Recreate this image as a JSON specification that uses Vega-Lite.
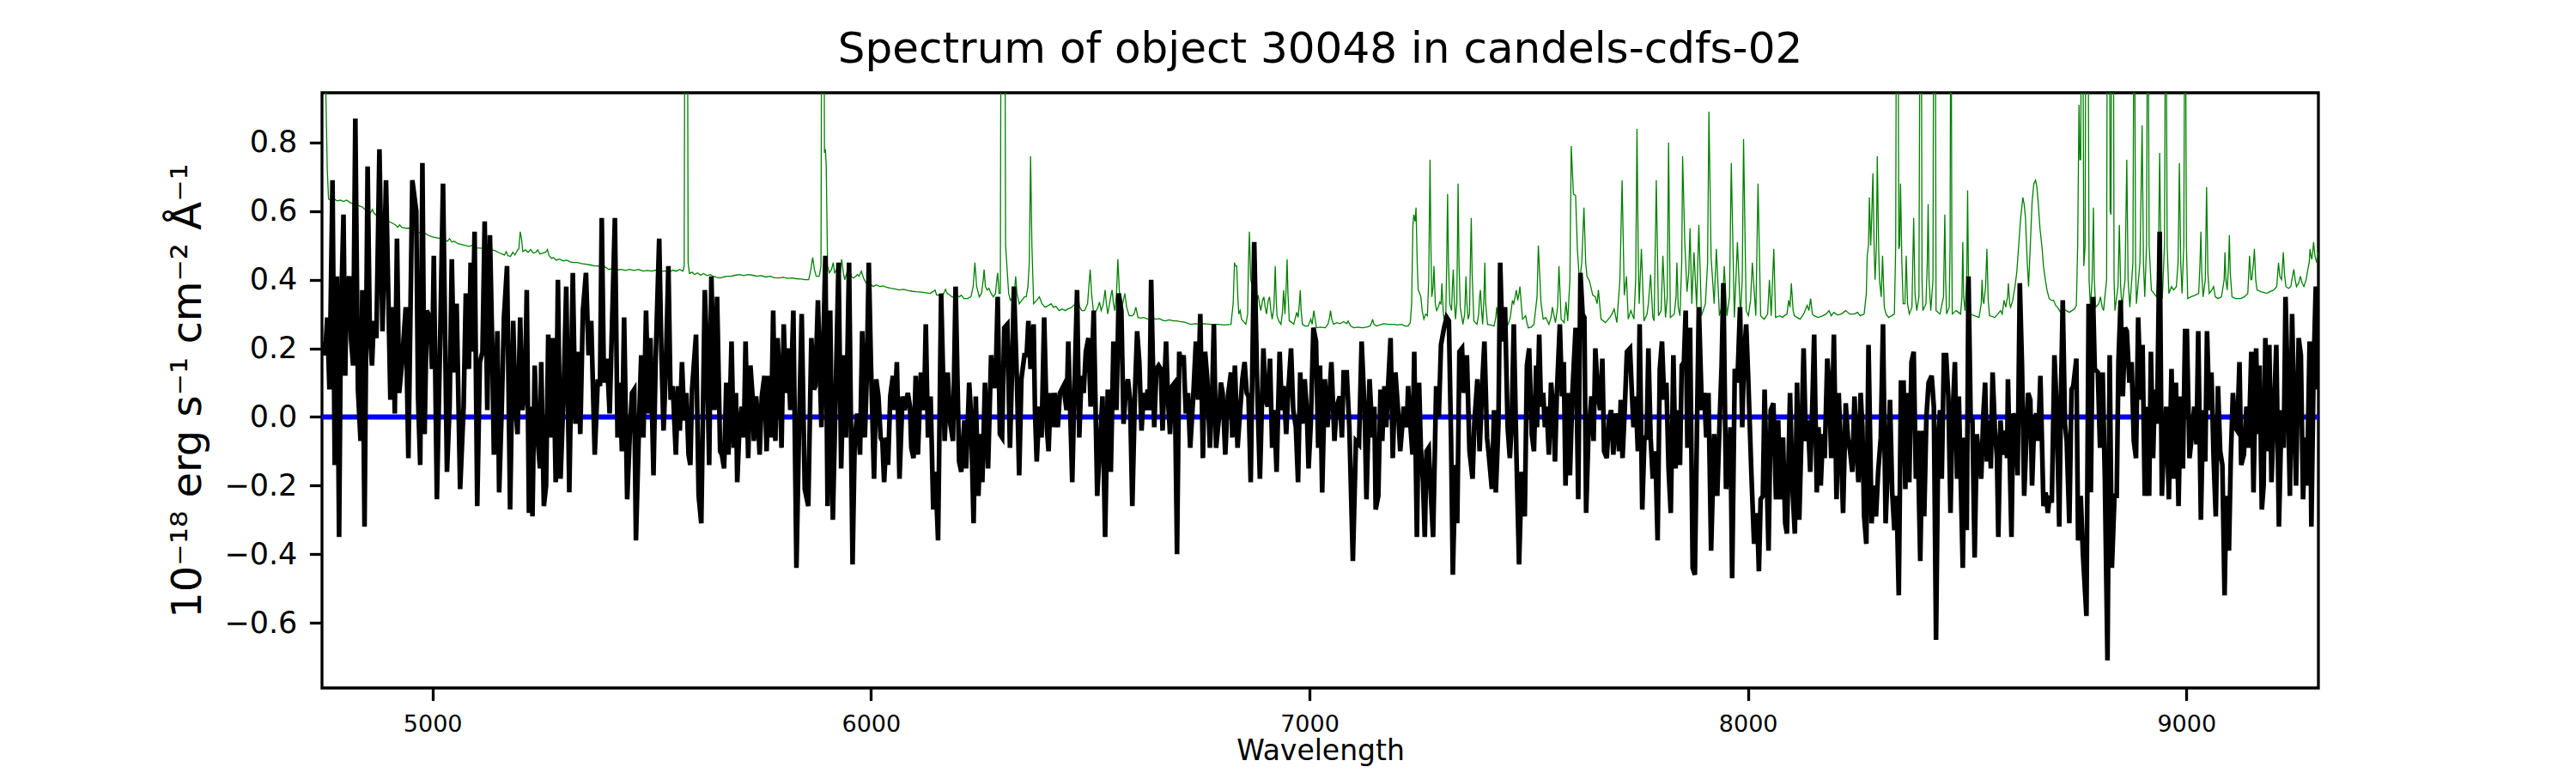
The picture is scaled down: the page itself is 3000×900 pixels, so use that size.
{
  "$schema": "https://vega.github.io/schema/vega-lite/v6.json",
  "autosize": "none",
  "width": 2325,
  "height": 693,
  "padding": {"left": 375, "top": 108, "right": 300, "bottom": 99},
  "background": "white",
  "title": {
    "text": "Spectrum of object 30048 in candels-cdfs-02",
    "font": "DejaVu Sans",
    "fontSize": 50,
    "fontWeight": "normal",
    "color": "black",
    "offset": 25
  },
  "config": {
    "view": {"stroke": "black", "strokeWidth": 3.3},
    "axis": {
      "labelFont": "DejaVu Sans",
      "titleFont": "DejaVu Sans",
      "labelColor": "black",
      "titleColor": "black",
      "titleFontWeight": "normal",
      "tickColor": "black",
      "tickWidth": 3.3,
      "tickSize": 14.6,
      "labelPadding": 14.6,
      "domain": false,
      "grid": false
    }
  },
  "datasets": {
    "zero": [{"wave": 4748, "flux": 0}, {"wave": 9301, "flux": 0}],
    "spec": [
      {"wave":4751,"flux":0.22},{"wave":4755,"flux":0.18},{"wave":4760,"flux":0.29},{"wave":4765,"flux":0.08},{"wave":4772,"flux":0.69},{"wave":4777,"flux":-0.14},{"wave":4782,"flux":0.41},{"wave":4787,"flux":-0.35},{"wave":4791,"flux":0.28},{"wave":4797,"flux":0.59},{"wave":4801,"flux":0.12},{"wave":4804,"flux":0.37},{"wave":4810,"flux":0.41},{"wave":4814,"flux":0.23},{"wave":4819,"flux":0.15},{"wave":4824,"flux":0.87},{"wave":4830,"flux":0.08},{"wave":4836,"flux":-0.07},{"wave":4840,"flux":0.37},{"wave":4845,"flux":-0.32},{"wave":4852,"flux":0.73},{"wave":4857,"flux":0.25},{"wave":4862,"flux":0.15},{"wave":4866,"flux":0.28},{"wave":4872,"flux":0.23},{"wave":4879,"flux":0.78},{"wave":4886,"flux":0.25},{"wave":4894,"flux":0.69},{"wave":4899,"flux":0.37},{"wave":4904,"flux":0.05},{"wave":4910,"flux":0.32},{"wave":4914,"flux":0.01},{"wave":4919,"flux":0.52},{"wave":4924,"flux":0.07},{"wave":4930,"flux":0.15},{"wave":4939,"flux":0.32},{"wave":4945,"flux":-0.12},{"wave":4954,"flux":0.69},{"wave":4963,"flux":0.6},{"wave":4967,"flux":0.06},{"wave":4972,"flux":-0.14},{"wave":4977,"flux":0.74},{"wave":4982,"flux":-0.05},{"wave":4987,"flux":0.31},{"wave":4994,"flux":0.29},{"wave":4999,"flux":0.14},{"wave":5003,"flux":0.47},{"wave":5010,"flux":-0.24},{"wave":5018,"flux":0.26},{"wave":5024,"flux":0.68},{"wave":5033,"flux":-0.16},{"wave":5039,"flux":0.03},{"wave":5044,"flux":0.46},{"wave":5049,"flux":0.13},{"wave":5055,"flux":0.33},{"wave":5063,"flux":-0.21},{"wave":5071,"flux":0.03},{"wave":5076,"flux":0.36},{"wave":5083,"flux":0.14},{"wave":5087,"flux":0.45},{"wave":5091,"flux":0.19},{"wave":5096,"flux":0.54},{"wave":5102,"flux":-0.26},{"wave":5108,"flux":0.16},{"wave":5114,"flux":0.19},{"wave":5119,"flux":0.57},{"wave":5125,"flux":0.02},{"wave":5131,"flux":0.53},{"wave":5136,"flux":0.22},{"wave":5140,"flux":-0.11},{"wave":5148,"flux":0.25},{"wave":5152,"flux":-0.22},{"wave":5158,"flux":0.03},{"wave":5163,"flux":0.29},{"wave":5170,"flux":0.44},{"wave":5177,"flux":-0.27},{"wave":5184,"flux":0.28},{"wave":5189,"flux":0.03},{"wave":5194,"flux":-0.05},{"wave":5200,"flux":0.29},{"wave":5205,"flux":0.02},{"wave":5211,"flux":0.08},{"wave":5215,"flux":0.37},{"wave":5220,"flux":-0.28},{"wave":5225,"flux":0.03},{"wave":5228,"flux":-0.29},{"wave":5233,"flux":0.15},{"wave":5238,"flux":-0.03},{"wave":5245,"flux":-0.15},{"wave":5248,"flux":0.16},{"wave":5254,"flux":-0.26},{"wave":5259,"flux":-0.2},{"wave":5264,"flux":0.24},{"wave":5269,"flux":-0.06},{"wave":5275,"flux":0.23},{"wave":5281,"flux":-0.19},{"wave":5286,"flux":0.4},{"wave":5292,"flux":-0.18},{"wave":5299,"flux":0.07},{"wave":5305,"flux":0.38},{"wave":5312,"flux":-0.22},{"wave":5320,"flux":0.42},{"wave":5326,"flux":-0.02},{"wave":5333,"flux":0.19},{"wave":5337,"flux":-0.05},{"wave":5343,"flux":0.31},{"wave":5350,"flux":0.42},{"wave":5356,"flux":0.18},{"wave":5362,"flux":0.28},{"wave":5370,"flux":-0.11},{"wave":5377,"flux":0.11},{"wave":5382,"flux":0.09},{"wave":5386,"flux":0.58},{"wave":5391,"flux":0.1},{"wave":5398,"flux":0.17},{"wave":5404,"flux":0.01},{"wave":5416,"flux":0.58},{"wave":5422,"flux":-0.06},{"wave":5427,"flux":0.1},{"wave":5432,"flux":-0.1},{"wave":5437,"flux":0.29},{"wave":5444,"flux":-0.24},{"wave":5450,"flux":-0.05},{"wave":5455,"flux":0.07},{"wave":5460,"flux":0.08},{"wave":5464,"flux":-0.36},{"wave":5471,"flux":-0.02},{"wave":5476,"flux":0.18},{"wave":5481,"flux":-0.06},{"wave":5487,"flux":0.31},{"wave":5493,"flux":0.01},{"wave":5497,"flux":0.23},{"wave":5504,"flux":-0.17},{"wave":5509,"flux":0.17},{"wave":5517,"flux":0.52},{"wave":5522,"flux":0.19},{"wave":5527,"flux":-0.04},{"wave":5532,"flux":0.14},{"wave":5538,"flux":0.44},{"wave":5543,"flux":0.05},{"wave":5548,"flux":0.09},{"wave":5555,"flux":-0.11},{"wave":5560,"flux":0.09},{"wave":5564,"flux":-0.04},{"wave":5569,"flux":0.16},{"wave":5574,"flux":-0.01},{"wave":5579,"flux":0.07},{"wave":5584,"flux":-0.11},{"wave":5588,"flux":-0.14},{"wave":5592,"flux":0.08},{"wave":5601,"flux":0.24},{"wave":5607,"flux":-0.23},{"wave":5613,"flux":-0.31},{"wave":5621,"flux":0.37},{"wave":5626,"flux":0.19},{"wave":5631,"flux":-0.14},{"wave":5636,"flux":0.41},{"wave":5643,"flux":0.02},{"wave":5649,"flux":0.35},{"wave":5656,"flux":-0.1},{"wave":5660,"flux":-0.11},{"wave":5665,"flux":-0.15},{"wave":5670,"flux":0.1},{"wave":5675,"flux":-0.11},
      {"wave":5679,"flux":0.07},{"wave":5682,"flux":0.22},{"wave":5687,"flux":-0.09},{"wave":5692,"flux":0.07},{"wave":5695,"flux":-0.19},{"wave":5700,"flux":-0.03},{"wave":5705,"flux":0.03},{"wave":5710,"flux":-0.06},{"wave":5714,"flux":0.22},{"wave":5720,"flux":-0.12},{"wave":5725,"flux":0.15},{"wave":5730,"flux":0.06},{"wave":5733,"flux":-0.07},{"wave":5738,"flux":0.06},{"wave":5743,"flux":-0.02},{"wave":5746,"flux":-0.11},{"wave":5751,"flux":0.06},{"wave":5757,"flux":0.12},{"wave":5762,"flux":-0.1},{"wave":5767,"flux":0.12},{"wave":5772,"flux":-0.06},{"wave":5777,"flux":0.31},{"wave":5782,"flux":-0.07},{"wave":5787,"flux":0.23},{"wave":5792,"flux":0.1},{"wave":5796,"flux":-0.09},{"wave":5801,"flux":0.27},{"wave":5806,"flux":0.07},{"wave":5811,"flux":0.2},{"wave":5816,"flux":0.02},{"wave":5823,"flux":0.31},{"wave":5830,"flux":-0.44},{"wave":5836,"flux":-0.03},{"wave":5842,"flux":0.3},{"wave":5849,"flux":-0.21},{"wave":5857,"flux":-0.26},{"wave":5864,"flux":0.23},{"wave":5870,"flux":0.08},{"wave":5873,"flux":0.09},{"wave":5879,"flux":0.34},{"wave":5887,"flux":-0.03},{"wave":5896,"flux":0.47},{"wave":5901,"flux":-0.26},{"wave":5907,"flux":0.31},{"wave":5913,"flux":-0.3},{"wave":5919,"flux":0.04},{"wave":5926,"flux":0.45},{"wave":5932,"flux":-0.15},{"wave":5938,"flux":0.18},{"wave":5943,"flux":-0.06},{"wave":5950,"flux":0.45},{"wave":5958,"flux":-0.43},{"wave":5963,"flux":-0.06},{"wave":5969,"flux":0.01},{"wave":5975,"flux":-0.11},{"wave":5980,"flux":0.25},{"wave":5986,"flux":-0.06},{"wave":5990,"flux":0.1},{"wave":5995,"flux":0.45},{"wave":6000,"flux":0.15},{"wave":6007,"flux":-0.18},{"wave":6012,"flux":0.11},{"wave":6017,"flux":0.06},{"wave":6022,"flux":-0.06},{"wave":6026,"flux":-0.07},{"wave":6030,"flux":-0.19},{"wave":6035,"flux":-0.06},{"wave":6039,"flux":-0.14},{"wave":6044,"flux":0.06},{"wave":6050,"flux":0.12},{"wave":6054,"flux":0.02},{"wave":6059,"flux":0.16},{"wave":6065,"flux":-0.18},{"wave":6072,"flux":0.06},{"wave":6077,"flux":0.02},{"wave":6084,"flux":0.07},{"wave":6089,"flux":0.03},{"wave":6092,"flux":-0.09},{"wave":6097,"flux":-0.12},{"wave":6102,"flux":0.12},{"wave":6107,"flux":-0.11},{"wave":6114,"flux":0.13},{"wave":6121,"flux":0.02},{"wave":6125,"flux":0.27},{"wave":6130,"flux":-0.06},{"wave":6136,"flux":0.06},{"wave":6142,"flux":-0.27},{"wave":6147,"flux":-0.16},{"wave":6153,"flux":-0.36},{"wave":6160,"flux":0.36},{"wave":6168,"flux":-0.07},{"wave":6175,"flux":0.13},{"wave":6181,"flux":-0.02},{"wave":6187,"flux":-0.07},{"wave":6193,"flux":0.38},{"wave":6201,"flux":-0.13},{"wave":6206,"flux":-0.16},{"wave":6213,"flux":-0.01},{"wave":6217,"flux":-0.15},{"wave":6224,"flux":0.1},{"wave":6228,"flux":0.01},{"wave":6234,"flux":-0.31},{"wave":6239,"flux":0.06},{"wave":6245,"flux":-0.23},{"wave":6250,"flux":-0.05},{"wave":6254,"flux":-0.19},{"wave":6260,"flux":0.1},{"wave":6267,"flux":-0.15},{"wave":6274,"flux":0.18},{"wave":6279,"flux":0.09},{"wave":6284,"flux":0.09},{"wave":6289,"flux":0.35},{"wave":6294,"flux":-0.05},{"wave":6299,"flux":-0.06},{"wave":6304,"flux":0.26},{"wave":6311,"flux":0.27},{"wave":6317,"flux":-0.09},{"wave":6322,"flux":0.15},{"wave":6326,"flux":0.38},{"wave":6333,"flux":0.1},{"wave":6338,"flux":-0.17},{"wave":6343,"flux":0.11},{"wave":6350,"flux":0.18},{"wave":6355,"flux":0.18},{"wave":6359,"flux":0.28},{"wave":6364,"flux":0.14},{"wave":6371,"flux":0.27},{"wave":6374,"flux":0.02},{"wave":6378,"flux":-0.13},{"wave":6384,"flux":0.03},{"wave":6389,"flux":-0.06},{"wave":6395,"flux":0.29},{"wave":6401,"flux":-0.03},{"wave":6405,"flux":-0.1},{"wave":6410,"flux":0.07},{"wave":6415,"flux":-0.03},{"wave":6419,"flux":0.07},{"wave":6426,"flux":-0.03},{"wave":6431,"flux":0.07},{"wave":6439,"flux":0.09},{"wave":6446,"flux":0.02},{"wave":6450,"flux":0.22},{"wave":6459,"flux":-0.19},{"wave":6463,"flux":0.03},{"wave":6470,"flux":0.37},{"wave":6475,"flux":-0.06},{"wave":6480,"flux":0.12},{"wave":6485,"flux":0.07},{"wave":6490,"flux":0.19},{"wave":6496,"flux":0.23},{"wave":6501,"flux":0.03},{"wave":6508,"flux":0.31},{"wave":6516,"flux":-0.23},{"wave":6523,"flux":-0.06},{"wave":6528,"flux":0.06},{"wave":6534,"flux":-0.35},{"wave":6540,"flux":0.08},{"wave":6547,"flux":-0.16},{"wave":6553,"flux":0.22},{"wave":6560,"flux":0.02},{"wave":6565,"flux":0.36},{"wave":6571,"flux":0.31},{"wave":6576,"flux":-0.02},{"wave":6581,"flux":0.07},{"wave":6586,"flux":0.11},{"wave":6591,"flux":0.05},{"wave":6596,"flux":-0.26},
      {"wave":6602,"flux":0.07},{"wave":6607,"flux":0.25},{"wave":6612,"flux":0.16},{"wave":6617,"flux":-0.04},{"wave":6622,"flux":0.07},{"wave":6627,"flux":0.02},{"wave":6631,"flux":0.08},{"wave":6635,"flux":0.02},{"wave":6639,"flux":0.4},{"wave":6646,"flux":-0.03},{"wave":6651,"flux":0.14},{"wave":6656,"flux":0.15},{"wave":6661,"flux":0.14},{"wave":6665,"flux":-0.04},{"wave":6673,"flux":0.22},{"wave":6677,"flux":0.06},{"wave":6682,"flux":-0.05},{"wave":6687,"flux":0.09},{"wave":6693,"flux":0.1},{"wave":6698,"flux":-0.4},{"wave":6703,"flux":0.19},{"wave":6708,"flux":0.15},{"wave":6713,"flux":0.18},{"wave":6718,"flux":0.01},{"wave":6723,"flux":0.07},{"wave":6728,"flux":-0.09},{"wave":6735,"flux":0.06},{"wave":6741,"flux":0.22},{"wave":6746,"flux":0.05},{"wave":6751,"flux":0.3},{"wave":6757,"flux":-0.12},{"wave":6762,"flux":0.19},{"wave":6767,"flux":0.11},{"wave":6773,"flux":-0.09},{"wave":6778,"flux":0.06},{"wave":6782,"flux":0.27},{"wave":6787,"flux":-0.09},{"wave":6793,"flux":-0.01},{"wave":6798,"flux":0.1},{"wave":6802,"flux":0.07},{"wave":6808,"flux":-0.11},{"wave":6814,"flux":0.06},{"wave":6821,"flux":0.13},{"wave":6824,"flux":-0.06},{"wave":6830,"flux":0.15},{"wave":6836,"flux":-0.09},{"wave":6842,"flux":0.02},{"wave":6847,"flux":0.11},{"wave":6852,"flux":0.16},{"wave":6857,"flux":0.07},{"wave":6861,"flux":0.06},{"wave":6866,"flux":-0.19},{"wave":6874,"flux":0.51},{"wave":6881,"flux":0.08},{"wave":6887,"flux":-0.18},{"wave":6895,"flux":0.2},{"wave":6900,"flux":0.05},{"wave":6905,"flux":0.03},{"wave":6910,"flux":0.17},{"wave":6915,"flux":-0.09},{"wave":6920,"flux":0.02},{"wave":6925,"flux":-0.16},{"wave":6932,"flux":0.19},{"wave":6937,"flux":0.02},{"wave":6941,"flux":0.09},{"wave":6947,"flux":-0.05},{"wave":6951,"flux":0.06},{"wave":6958,"flux":0.2},{"wave":6963,"flux":0.02},{"wave":6969,"flux":-0.03},{"wave":6974,"flux":-0.19},{"wave":6979,"flux":0.13},{"wave":6984,"flux":-0.02},{"wave":6989,"flux":0.11},{"wave":6994,"flux":0.02},{"wave":6998,"flux":-0.15},{"wave":7003,"flux":-0.02},{"wave":7009,"flux":0.26},{"wave":7015,"flux":0.22},{"wave":7020,"flux":-0.09},{"wave":7024,"flux":0.15},{"wave":7029,"flux":-0.22},{"wave":7035,"flux":0.11},{"wave":7041,"flux":-0.03},{"wave":7046,"flux":0.07},{"wave":7050,"flux":0.16},{"wave":7057,"flux":-0.07},{"wave":7062,"flux":0.03},{"wave":7069,"flux":0.06},{"wave":7074,"flux":-0.06},{"wave":7078,"flux":0.13},{"wave":7085,"flux":0.13},{"wave":7091,"flux":-0.03},{"wave":7099,"flux":-0.42},{"wave":7106,"flux":-0.07},{"wave":7113,"flux":-0.08},{"wave":7119,"flux":0.22},{"wave":7126,"flux":0.01},{"wave":7130,"flux":-0.24},{"wave":7137,"flux":0.11},{"wave":7144,"flux":-0.06},{"wave":7148,"flux":0.03},{"wave":7151,"flux":-0.27},{"wave":7157,"flux":-0.23},{"wave":7162,"flux":0.08},{"wave":7166,"flux":-0.07},{"wave":7171,"flux":0.09},{"wave":7175,"flux":-0.03},{"wave":7179,"flux":0.08},{"wave":7185,"flux":0.23},{"wave":7190,"flux":-0.12},{"wave":7196,"flux":0.13},{"wave":7202,"flux":0.02},{"wave":7207,"flux":-0.1},{"wave":7215,"flux":0.03},{"wave":7222,"flux":-0.03},{"wave":7225,"flux":0.09},{"wave":7230,"flux":-0.02},{"wave":7235,"flux":-0.11},{"wave":7239,"flux":0.19},{"wave":7245,"flux":-0.35},{"wave":7250,"flux":0.1},{"wave":7254,"flux":-0.09},{"wave":7259,"flux":-0.19},{"wave":7263,"flux":-0.35},{"wave":7267,"flux":-0.1},{"wave":7272,"flux":-0.09},{"wave":7277,"flux":-0.23},{"wave":7282,"flux":-0.35},{"wave":7289,"flux":0.09},{"wave":7295,"flux":0.0},{"wave":7300,"flux":0.21},{"wave":7307,"flux":0.26},{"wave":7313,"flux":0.29},{"wave":7318,"flux":0.28},{"wave":7323,"flux":-0.07},{"wave":7327,"flux":-0.46},{"wave":7333,"flux":-0.14},{"wave":7337,"flux":-0.31},{"wave":7342,"flux":0.19},{"wave":7348,"flux":0.2},{"wave":7352,"flux":0.07},{"wave":7359,"flux":0.18},{"wave":7365,"flux":-0.1},{"wave":7372,"flux":-0.18},{"wave":7376,"flux":-0.02},{"wave":7383,"flux":0.11},{"wave":7388,"flux":-0.1},{"wave":7395,"flux":0.12},{"wave":7399,"flux":0.22},{"wave":7405,"flux":-0.06},{"wave":7409,"flux":-0.11},{"wave":7416,"flux":-0.21},{"wave":7421,"flux":0.02},{"wave":7425,"flux":-0.22},{"wave":7431,"flux":-0.02},{"wave":7435,"flux":0.45},{"wave":7440,"flux":0.22},{"wave":7446,"flux":0.32},{"wave":7452,"flux":-0.03},{"wave":7457,"flux":-0.12},{"wave":7461,"flux":-0.03},{"wave":7466,"flux":0.27},{"wave":7472,"flux":-0.11},{"wave":7478,"flux":-0.43},{"wave":7484,"flux":-0.16},{"wave":7491,"flux":-0.29},{"wave":7496,"flux":0.15},{"wave":7501,"flux":0.2},{"wave":7507,"flux":-0.05},{"wave":7512,"flux":-0.1},{"wave":7517,"flux":0.15},
      {"wave":7519,"flux":-0.03},{"wave":7524,"flux":0.24},{"wave":7528,"flux":0.03},{"wave":7533,"flux":0.07},{"wave":7537,"flux":-0.03},{"wave":7541,"flux":0.03},{"wave":7546,"flux":-0.11},{"wave":7551,"flux":0.1},{"wave":7556,"flux":0.02},{"wave":7560,"flux":-0.13},{"wave":7564,"flux":0.06},{"wave":7571,"flux":0.27},{"wave":7576,"flux":0.06},{"wave":7580,"flux":0.16},{"wave":7584,"flux":-0.2},{"wave":7589,"flux":0.07},{"wave":7594,"flux":-0.17},{"wave":7600,"flux":0.08},{"wave":7607,"flux":0.26},{"wave":7613,"flux":-0.24},{"wave":7618,"flux":0.42},{"wave":7623,"flux":0.3},{"wave":7627,"flux":0.29},{"wave":7631,"flux":-0.28},{"wave":7636,"flux":-0.06},{"wave":7643,"flux":0.06},{"wave":7648,"flux":-0.07},{"wave":7652,"flux":0.2},{"wave":7658,"flux":0.06},{"wave":7663,"flux":0.02},{"wave":7668,"flux":0.17},{"wave":7672,"flux":-0.1},{"wave":7678,"flux":-0.12},{"wave":7683,"flux":-0.01},{"wave":7688,"flux":0.02},{"wave":7693,"flux":-0.11},{"wave":7698,"flux":0.01},{"wave":7703,"flux":-0.03},{"wave":7706,"flux":-0.1},{"wave":7710,"flux":0.05},{"wave":7714,"flux":-0.12},{"wave":7719,"flux":0.02},{"wave":7724,"flux":0.19},{"wave":7731,"flux":0.2},{"wave":7735,"flux":0.08},{"wave":7739,"flux":-0.03},{"wave":7744,"flux":0.06},{"wave":7749,"flux":-0.1},{"wave":7753,"flux":0.27},{"wave":7759,"flux":-0.27},{"wave":7764,"flux":-0.06},{"wave":7769,"flux":-0.06},{"wave":7773,"flux":0.2},{"wave":7778,"flux":-0.06},{"wave":7783,"flux":-0.18},{"wave":7789,"flux":-0.1},{"wave":7794,"flux":-0.36},{"wave":7799,"flux":0.14},{"wave":7804,"flux":0.22},{"wave":7809,"flux":0.05},{"wave":7814,"flux":0.1},{"wave":7819,"flux":-0.15},{"wave":7824,"flux":-0.28},{"wave":7830,"flux":0.18},{"wave":7835,"flux":-0.15},{"wave":7838,"flux":0.02},{"wave":7845,"flux":-0.14},{"wave":7849,"flux":0.15},{"wave":7854,"flux":0.16},{"wave":7858,"flux":0.31},{"wave":7862,"flux":-0.09},{"wave":7868,"flux":0.26},{"wave":7874,"flux":-0.44},{"wave":7879,"flux":-0.46},{"wave":7884,"flux":-0.01},{"wave":7888,"flux":0.32},{"wave":7895,"flux":0.02},{"wave":7900,"flux":0.07},{"wave":7905,"flux":-0.06},{"wave":7910,"flux":0.07},{"wave":7916,"flux":-0.39},{"wave":7923,"flux":-0.05},{"wave":7930,"flux":-0.23},{"wave":7935,"flux":-0.03},{"wave":7940,"flux":0.15},{"wave":7944,"flux":0.39},{"wave":7950,"flux":-0.21},{"wave":7956,"flux":-0.14},{"wave":7960,"flux":-0.03},{"wave":7964,"flux":-0.47},{"wave":7970,"flux":0.14},{"wave":7976,"flux":0.1},{"wave":7982,"flux":0.32},{"wave":7987,"flux":-0.03},{"wave":7991,"flux":0.17},{"wave":7996,"flux":0.27},{"wave":8001,"flux":0.1},{"wave":8008,"flux":-0.17},{"wave":8014,"flux":-0.37},{"wave":8021,"flux":-0.28},{"wave":8025,"flux":-0.45},{"wave":8029,"flux":-0.24},{"wave":8034,"flux":-0.23},{"wave":8038,"flux":0.08},{"wave":8042,"flux":-0.13},{"wave":8047,"flux":-0.39},{"wave":8052,"flux":0.02},{"wave":8058,"flux":0.04},{"wave":8064,"flux":-0.24},{"wave":8069,"flux":-0.01},{"wave":8074,"flux":-0.24},{"wave":8080,"flux":-0.06},{"wave":8085,"flux":-0.31},{"wave":8089,"flux":-0.34},{"wave":8096,"flux":0.07},{"wave":8102,"flux":-0.22},{"wave":8107,"flux":-0.34},{"wave":8112,"flux":0.1},{"wave":8117,"flux":-0.3},{"wave":8122,"flux":-0.06},{"wave":8127,"flux":0.2},{"wave":8132,"flux":-0.07},{"wave":8137,"flux":-0.01},{"wave":8142,"flux":-0.16},{"wave":8146,"flux":-0.01},{"wave":8151,"flux":0.24},{"wave":8157,"flux":-0.22},{"wave":8161,"flux":-0.03},{"wave":8166,"flux":-0.2},{"wave":8171,"flux":-0.05},{"wave":8175,"flux":-0.12},{"wave":8181,"flux":0.17},{"wave":8185,"flux":0.1},{"wave":8190,"flux":-0.12},{"wave":8196,"flux":0.24},{"wave":8202,"flux":-0.24},{"wave":8207,"flux":0.07},{"wave":8212,"flux":-0.09},{"wave":8217,"flux":-0.28},{"wave":8223,"flux":0.04},{"wave":8228,"flux":-0.06},{"wave":8233,"flux":-0.1},{"wave":8238,"flux":-0.16},{"wave":8243,"flux":0.06},{"wave":8248,"flux":-0.1},{"wave":8252,"flux":-0.19},{"wave":8257,"flux":0.07},{"wave":8261,"flux":-0.03},{"wave":8265,"flux":-0.29},{"wave":8270,"flux":-0.37},{"wave":8275,"flux":0.21},{"wave":8282,"flux":-0.31},{"wave":8287,"flux":-0.2},{"wave":8292,"flux":-0.29},{"wave":8297,"flux":-0.16},{"wave":8303,"flux":-0.06},{"wave":8308,"flux":0.27},{"wave":8314,"flux":-0.31},{"wave":8319,"flux":-0.14},{"wave":8324,"flux":0.05},{"wave":8329,"flux":-0.22},{"wave":8334,"flux":-0.33},{"wave":8339,"flux":-0.23},{"wave":8344,"flux":-0.52},{"wave":8349,"flux":0.1},{"wave":8355,"flux":0.1},{"wave":8359,"flux":-0.21},{"wave":8363,"flux":0.07},{"wave":8368,"flux":-0.19},{"wave":8373,"flux":0.16},{"wave":8378,"flux":0.19},{"wave":8383,"flux":-0.18},{"wave":8387,"flux":-0.04},{"wave":8393,"flux":-0.42},{"wave":8398,"flux":-0.04},{"wave":8402,"flux":-0.29},{"wave":8407,"flux":0.0},{"wave":8412,"flux":0.1},{"wave":8419,"flux":0.12},{"wave":8424,"flux":0.03},{"wave":8429,"flux":-0.65},
      {"wave":8434,"flux":-0.06},{"wave":8438,"flux":0.02},{"wave":8442,"flux":-0.18},{"wave":8447,"flux":0.18},{"wave":8452,"flux":0.18},{"wave":8457,"flux":0.06},{"wave":8462,"flux":-0.28},{"wave":8466,"flux":-0.02},{"wave":8472,"flux":0.16},{"wave":8477,"flux":-0.18},{"wave":8481,"flux":0.06},{"wave":8486,"flux":-0.22},{"wave":8490,"flux":-0.44},{"wave":8494,"flux":-0.06},{"wave":8499,"flux":-0.33},{"wave":8503,"flux":0.41},{"wave":8508,"flux":-0.01},{"wave":8512,"flux":-0.01},{"wave":8517,"flux":-0.41},{"wave":8522,"flux":-0.05},{"wave":8527,"flux":-0.12},{"wave":8532,"flux":-0.18},{"wave":8537,"flux":0.01},{"wave":8541,"flux":0.1},{"wave":8545,"flux":-0.13},{"wave":8550,"flux":-0.01},{"wave":8554,"flux":-0.15},{"wave":8558,"flux":0.13},{"wave":8563,"flux":-0.03},{"wave":8568,"flux":-0.12},{"wave":8571,"flux":-0.35},{"wave":8576,"flux":-0.01},{"wave":8581,"flux":-0.11},{"wave":8586,"flux":-0.04},{"wave":8591,"flux":-0.12},{"wave":8593,"flux":0.11},{"wave":8597,"flux":-0.12},{"wave":8601,"flux":-0.35},{"wave":8605,"flux":0.01},{"wave":8610,"flux":-0.01},{"wave":8615,"flux":-0.17},{"wave":8620,"flux":0.39},{"wave":8625,"flux":0.15},{"wave":8630,"flux":-0.23},{"wave":8635,"flux":-0.06},{"wave":8639,"flux":0.07},{"wave":8644,"flux":0.05},{"wave":8648,"flux":-0.2},{"wave":8653,"flux":-0.01},{"wave":8658,"flux":0.01},{"wave":8662,"flux":-0.07},{"wave":8667,"flux":0.12},{"wave":8674,"flux":-0.26},{"wave":8679,"flux":-0.22},{"wave":8684,"flux":-0.28},{"wave":8688,"flux":-0.23},{"wave":8693,"flux":-0.25},{"wave":8699,"flux":0.18},{"wave":8704,"flux":0.03},{"wave":8710,"flux":-0.32},{"wave":8714,"flux":0.07},{"wave":8718,"flux":0.34},{"wave":8723,"flux":-0.02},{"wave":8727,"flux":-0.07},{"wave":8733,"flux":-0.31},{"wave":8738,"flux":0.08},{"wave":8742,"flux":0.09},{"wave":8749,"flux":0.17},{"wave":8753,"flux":-0.36},{"wave":8759,"flux":-0.23},{"wave":8764,"flux":-0.4},{"wave":8772,"flux":-0.58},{"wave":8777,"flux":0.33},{"wave":8782,"flux":-0.22},{"wave":8787,"flux":0.35},{"wave":8791,"flux":0.14},{"wave":8798,"flux":0.13},{"wave":8803,"flux":-0.09},{"wave":8809,"flux":0.13},{"wave":8814,"flux":-0.18},{"wave":8820,"flux":-0.71},{"wave":8825,"flux":0.18},{"wave":8830,"flux":-0.44},{"wave":8836,"flux":-0.23},{"wave":8841,"flux":-0.23},{"wave":8845,"flux":0.16},{"wave":8850,"flux":0.34},{"wave":8855,"flux":0.06},{"wave":8860,"flux":0.26},{"wave":8864,"flux":0.25},{"wave":8870,"flux":0.1},{"wave":8875,"flux":0.16},{"wave":8880,"flux":-0.07},{"wave":8885,"flux":-0.12},{"wave":8890,"flux":0.29},{"wave":8896,"flux":0.05},{"wave":8900,"flux":0.21},{"wave":8905,"flux":-0.23},{"wave":8910,"flux":0.03},{"wave":8915,"flux":-0.23},{"wave":8919,"flux":0.19},{"wave":8924,"flux":-0.12},{"wave":8928,"flux":0.08},{"wave":8933,"flux":-0.02},{"wave":8939,"flux":0.54},{"wave":8944,"flux":-0.23},{"wave":8949,"flux":-0.07},{"wave":8954,"flux":0.03},{"wave":8960,"flux":-0.24},{"wave":8966,"flux":0.14},{"wave":8971,"flux":-0.18},{"wave":8976,"flux":0.1},{"wave":8982,"flux":-0.26},{"wave":8987,"flux":0.06},{"wave":8992,"flux":-0.15},{"wave":8997,"flux":0.25},{"wave":9001,"flux":0.25},{"wave":9007,"flux":-0.12},{"wave":9012,"flux":-0.06},{"wave":9018,"flux":0.03},{"wave":9023,"flux":-0.08},{"wave":9027,"flux":0.25},{"wave":9033,"flux":-0.3},{"wave":9038,"flux":0.02},{"wave":9043,"flux":-0.13},{"wave":9047,"flux":0.25},{"wave":9052,"flux":0.02},{"wave":9057,"flux":0.13},{"wave":9062,"flux":-0.12},{"wave":9067,"flux":-0.29},{"wave":9072,"flux":0.09},{"wave":9077,"flux":-0.1},{"wave":9082,"flux":-0.14},{"wave":9087,"flux":-0.52},{"wave":9091,"flux":-0.23},{"wave":9097,"flux":-0.39},{"wave":9101,"flux":-0.13},{"wave":9106,"flux":0.07},{"wave":9111,"flux":-0.03},{"wave":9116,"flux":-0.04},{"wave":9121,"flux":0.16},{"wave":9125,"flux":-0.14},{"wave":9131,"flux":-0.11},{"wave":9137,"flux":0.03},{"wave":9142,"flux":-0.09},{"wave":9148,"flux":0.19},{"wave":9153,"flux":-0.22},{"wave":9159,"flux":0.2},{"wave":9163,"flux":-0.05},{"wave":9167,"flux":0.15},{"wave":9172,"flux":-0.27},{"wave":9176,"flux":-0.2},{"wave":9180,"flux":0.23},{"wave":9185,"flux":-0.1},{"wave":9189,"flux":0.21},{"wave":9194,"flux":-0.19},{"wave":9200,"flux":0.03},{"wave":9205,"flux":0.21},{"wave":9211,"flux":-0.32},{"wave":9217,"flux":0.02},{"wave":9222,"flux":-0.09},{"wave":9226,"flux":0.35},{"wave":9232,"flux":0.04},{"wave":9236,"flux":-0.23},{"wave":9241,"flux":0.3},{"wave":9246,"flux":-0.01},{"wave":9250,"flux":-0.2},{"wave":9256,"flux":0.23},{"wave":9261,"flux":0.18},{"wave":9266,"flux":-0.24},{"wave":9271,"flux":-0.06},{"wave":9275,"flux":-0.2},{"wave":9281,"flux":0.22},{"wave":9285,"flux":-0.32},{"wave":9290,"flux":0.13},{"wave":9295,"flux":0.38},{"wave":9300,"flux":0.08}
    ],
    "contam": [
      {"wave":4750,"flux":1.4},{"wave":4756,"flux":1.0},{"wave":4760,"flux":0.72},{"wave":4763,"flux":0.635},{"wave":4770,"flux":0.63},{"wave":4776,"flux":0.635},{"wave":4782,"flux":0.63},{"wave":4790,"flux":0.632},{"wave":4797,"flux":0.628},{"wave":4804,"flux":0.632},{"wave":4812,"flux":0.625},{"wave":4818,"flux":0.622},{"wave":4826,"flux":0.62},{"wave":4834,"flux":0.615},{"wave":4840,"flux":0.612},{"wave":4846,"flux":0.605},{"wave":4852,"flux":0.598},{"wave":4857,"flux":0.593},{"wave":4861,"flux":0.6},{"wave":4863,"flux":0.605},{"wave":4866,"flux":0.595},{"wave":4872,"flux":0.588},{"wave":4878,"flux":0.585},{"wave":4885,"flux":0.578},{"wave":4892,"flux":0.574},{"wave":4900,"flux":0.57},{"wave":4908,"flux":0.565},{"wave":4915,"flux":0.56},{"wave":4921,"flux":0.553},{"wave":4925,"flux":0.56},{"wave":4930,"flux":0.553},{"wave":4940,"flux":0.55},{"wave":4950,"flux":0.55},{"wave":4958,"flux":0.545},{"wave":4966,"flux":0.54},{"wave":4975,"flux":0.535},{"wave":4983,"flux":0.535},{"wave":4990,"flux":0.53},{"wave":5000,"flux":0.525},{"wave":5010,"flux":0.522},{"wave":5018,"flux":0.52},{"wave":5026,"flux":0.518},{"wave":5034,"flux":0.512},{"wave":5039,"flux":0.52},{"wave":5044,"flux":0.51},{"wave":5050,"flux":0.512},{"wave":5058,"flux":0.505},{"wave":5066,"flux":0.503},{"wave":5074,"flux":0.5},{"wave":5083,"flux":0.497},{"wave":5091,"flux":0.5},{"wave":5100,"flux":0.493},{"wave":5110,"flux":0.492},{"wave":5118,"flux":0.49},{"wave":5126,"flux":0.488},{"wave":5134,"flux":0.487},{"wave":5142,"flux":0.485},{"wave":5150,"flux":0.48},{"wave":5158,"flux":0.475},{"wave":5164,"flux":0.472},{"wave":5168,"flux":0.482},{"wave":5172,"flux":0.47},{"wave":5178,"flux":0.468},{"wave":5183,"flux":0.48},{"wave":5188,"flux":0.472},{"wave":5194,"flux":0.487},{"wave":5197,"flux":0.49},{"wave":5200,"flux":0.54},{"wave":5203,"flux":0.52},{"wave":5206,"flux":0.482},{"wave":5212,"flux":0.487},{"wave":5218,"flux":0.48},{"wave":5224,"flux":0.488},{"wave":5230,"flux":0.478},{"wave":5236,"flux":0.48},{"wave":5240,"flux":0.487},{"wave":5245,"flux":0.475},{"wave":5252,"flux":0.478},{"wave":5258,"flux":0.48},{"wave":5262,"flux":0.488},{"wave":5266,"flux":0.47},{"wave":5272,"flux":0.462},{"wave":5276,"flux":0.465},{"wave":5282,"flux":0.457},{"wave":5290,"flux":0.46},{"wave":5298,"flux":0.455},{"wave":5306,"flux":0.457},{"wave":5314,"flux":0.452},{"wave":5322,"flux":0.45},{"wave":5330,"flux":0.45},{"wave":5340,"flux":0.447},{"wave":5350,"flux":0.445},{"wave":5360,"flux":0.443},{"wave":5370,"flux":0.44},{"wave":5378,"flux":0.44},{"wave":5386,"flux":0.435},{"wave":5394,"flux":0.437},{"wave":5402,"flux":0.43},{"wave":5412,"flux":0.433},{"wave":5420,"flux":0.428},{"wave":5430,"flux":0.43},{"wave":5440,"flux":0.427},{"wave":5450,"flux":0.43},{"wave":5460,"flux":0.427},{"wave":5470,"flux":0.43},{"wave":5480,"flux":0.425},{"wave":5490,"flux":0.427},{"wave":5500,"flux":0.425},{"wave":5510,"flux":0.428},{"wave":5520,"flux":0.424},{"wave":5530,"flux":0.426},{"wave":5540,"flux":0.422},{"wave":5548,"flux":0.428},{"wave":5556,"flux":0.425},{"wave":5564,"flux":0.43},{"wave":5571,"flux":0.425},{"wave":5574,"flux":0.44},{"wave":5576,"flux":1.5},{"wave":5581,"flux":1.5},{"wave":5583,"flux":0.45},{"wave":5586,"flux":0.418},{"wave":5592,"flux":0.422},{"wave":5598,"flux":0.415},{"wave":5604,"flux":0.42},{"wave":5612,"flux":0.413},{"wave":5618,"flux":0.418},{"wave":5626,"flux":0.412},{"wave":5634,"flux":0.415},{"wave":5640,"flux":0.41},{"wave":5648,"flux":0.407},{"wave":5656,"flux":0.405},{"wave":5664,"flux":0.408},{"wave":5672,"flux":0.41},
      {"wave":5680,"flux":0.41},{"wave":5690,"flux":0.413},{"wave":5700,"flux":0.415},{"wave":5710,"flux":0.412},{"wave":5720,"flux":0.415},{"wave":5730,"flux":0.413},{"wave":5740,"flux":0.41},{"wave":5750,"flux":0.412},{"wave":5760,"flux":0.408},{"wave":5770,"flux":0.41},{"wave":5780,"flux":0.406},{"wave":5790,"flux":0.405},{"wave":5800,"flux":0.407},{"wave":5810,"flux":0.404},{"wave":5820,"flux":0.405},{"wave":5830,"flux":0.403},{"wave":5840,"flux":0.402},{"wave":5850,"flux":0.4},{"wave":5858,"flux":0.4},{"wave":5863,"flux":0.43},{"wave":5867,"flux":0.465},{"wave":5871,"flux":0.43},{"wave":5875,"flux":0.41},{"wave":5882,"flux":0.41},{"wave":5886,"flux":0.44},{"wave":5888,"flux":1.5},{"wave":5892,"flux":1.5},{"wave":5894,"flux":0.77},{"wave":5896,"flux":0.78},{"wave":5898,"flux":0.73},{"wave":5901,"flux":0.44},{"wave":5905,"flux":0.42},{"wave":5910,"flux":0.43},{"wave":5914,"flux":0.45},{"wave":5917,"flux":0.42},{"wave":5920,"flux":0.425},{"wave":5924,"flux":0.44},{"wave":5927,"flux":0.45},{"wave":5930,"flux":0.42},{"wave":5933,"flux":0.46},{"wave":5937,"flux":0.42},{"wave":5940,"flux":0.4},{"wave":5945,"flux":0.42},{"wave":5950,"flux":0.44},{"wave":5955,"flux":0.41},{"wave":5960,"flux":0.405},{"wave":5965,"flux":0.41},{"wave":5969,"flux":0.415},{"wave":5973,"flux":0.41},{"wave":5978,"flux":0.425},{"wave":5983,"flux":0.405},{"wave":5989,"flux":0.39},{"wave":5996,"flux":0.392},{"wave":6005,"flux":0.38},{"wave":6012,"flux":0.385},{"wave":6020,"flux":0.38},{"wave":6028,"flux":0.382},{"wave":6035,"flux":0.378},{"wave":6045,"flux":0.375},{"wave":6055,"flux":0.373},{"wave":6064,"flux":0.37},{"wave":6075,"flux":0.372},{"wave":6085,"flux":0.368},{"wave":6095,"flux":0.366},{"wave":6103,"flux":0.365},{"wave":6115,"flux":0.364},{"wave":6125,"flux":0.362},{"wave":6135,"flux":0.36},{"wave":6141,"flux":0.365},{"wave":6146,"flux":0.37},{"wave":6150,"flux":0.355},{"wave":6160,"flux":0.355},{"wave":6166,"flux":0.36},{"wave":6170,"flux":0.372},{"wave":6174,"flux":0.36},{"wave":6180,"flux":0.355},{"wave":6185,"flux":0.35},{"wave":6192,"flux":0.348},{"wave":6197,"flux":0.355},{"wave":6201,"flux":0.35},{"wave":6206,"flux":0.355},{"wave":6212,"flux":0.345},{"wave":6220,"flux":0.345},{"wave":6228,"flux":0.35},{"wave":6233,"flux":0.38},{"wave":6237,"flux":0.45},{"wave":6241,"flux":0.38},{"wave":6247,"flux":0.35},{"wave":6252,"flux":0.36},{"wave":6256,"flux":0.4},{"wave":6258,"flux":0.43},{"wave":6261,"flux":0.38},{"wave":6265,"flux":0.37},{"wave":6269,"flux":0.375},{"wave":6274,"flux":0.36},{"wave":6279,"flux":0.35},{"wave":6284,"flux":0.36},{"wave":6287,"flux":0.4},{"wave":6289,"flux":0.42},{"wave":6292,"flux":0.36},{"wave":6295,"flux":0.36},{"wave":6297,"flux":1.5},{"wave":6305,"flux":1.5},{"wave":6307,"flux":0.5},{"wave":6310,"flux":0.44},{"wave":6314,"flux":0.36},{"wave":6318,"flux":0.34},{"wave":6324,"flux":0.35},{"wave":6328,"flux":0.38},{"wave":6330,"flux":0.41},{"wave":6333,"flux":0.36},{"wave":6338,"flux":0.33},{"wave":6344,"flux":0.34},{"wave":6350,"flux":0.35},{"wave":6354,"flux":0.35},{"wave":6358,"flux":0.38},{"wave":6361,"flux":0.45},{"wave":6364,"flux":0.76},{"wave":6367,"flux":0.5},{"wave":6371,"flux":0.33},{"wave":6378,"flux":0.34},{"wave":6384,"flux":0.35},{"wave":6390,"flux":0.33},{"wave":6397,"flux":0.32},{"wave":6405,"flux":0.325},{"wave":6411,"flux":0.33},{"wave":6416,"flux":0.32},{"wave":6422,"flux":0.322},{"wave":6429,"flux":0.31},{"wave":6436,"flux":0.315},{"wave":6443,"flux":0.31},{"wave":6449,"flux":0.315},{"wave":6456,"flux":0.318},{"wave":6462,"flux":0.325},{"wave":6467,"flux":0.33},{"wave":6470,"flux":0.36},{"wave":6472,"flux":0.35},{"wave":6476,"flux":0.32},{"wave":6481,"flux":0.31},{"wave":6487,"flux":0.31},{"wave":6494,"flux":0.33},{"wave":6498,"flux":0.4},{"wave":6500,"flux":0.43},{"wave":6503,"flux":0.36},{"wave":6508,"flux":0.3},{"wave":6514,"flux":0.31},{"wave":6518,"flux":0.32},{"wave":6521,"flux":0.335},{"wave":6525,"flux":0.31},{"wave":6530,"flux":0.33},{"wave":6534,"flux":0.37},{"wave":6537,"flux":0.33},{"wave":6540,"flux":0.3},{"wave":6544,"flux":0.33},{"wave":6548,"flux":0.36},{"wave":6550,"flux":0.37},{"wave":6553,"flux":0.33},{"wave":6556,"flux":0.31},{"wave":6560,"flux":0.36},{"wave":6563,"flux":0.46},{"wave":6566,"flux":0.38},{"wave":6569,"flux":0.31},{"wave":6574,"flux":0.33},{"wave":6579,"flux":0.36},{"wave":6583,"flux":0.32},{"wave":6589,"flux":0.295},{"wave":6596,"flux":0.295},
      {"wave":6600,"flux":0.3},{"wave":6604,"flux":0.32},{"wave":6609,"flux":0.29},{"wave":6615,"flux":0.288},{"wave":6622,"flux":0.29},{"wave":6632,"flux":0.285},{"wave":6640,"flux":0.288},{"wave":6650,"flux":0.285},{"wave":6658,"flux":0.287},{"wave":6665,"flux":0.282},{"wave":6671,"flux":0.28},{"wave":6680,"flux":0.283},{"wave":6690,"flux":0.28},{"wave":6697,"flux":0.28},{"wave":6705,"flux":0.278},{"wave":6715,"flux":0.276},{"wave":6729,"flux":0.27},{"wave":6740,"flux":0.272},{"wave":6750,"flux":0.27},{"wave":6760,"flux":0.272},{"wave":6775,"flux":0.27},{"wave":6790,"flux":0.27},{"wave":6805,"flux":0.268},{"wave":6821,"flux":0.27},{"wave":6826,"flux":0.33},{"wave":6829,"flux":0.45},{"wave":6831,"flux":0.44},{"wave":6834,"flux":0.44},{"wave":6837,"flux":0.34},{"wave":6839,"flux":0.3},{"wave":6842,"flux":0.31},{"wave":6845,"flux":0.285},{"wave":6855,"flux":0.27},{"wave":6859,"flux":0.3},{"wave":6861,"flux":0.45},{"wave":6863,"flux":0.54},{"wave":6866,"flux":0.4},{"wave":6870,"flux":0.38},{"wave":6873,"flux":0.34},{"wave":6876,"flux":0.31},{"wave":6880,"flux":0.34},{"wave":6883,"flux":0.355},{"wave":6886,"flux":0.33},{"wave":6889,"flux":0.31},{"wave":6893,"flux":0.34},{"wave":6896,"flux":0.35},{"wave":6899,"flux":0.32},{"wave":6902,"flux":0.3},{"wave":6906,"flux":0.34},{"wave":6909,"flux":0.35},{"wave":6912,"flux":0.31},{"wave":6915,"flux":0.285},{"wave":6919,"flux":0.32},{"wave":6922,"flux":0.44},{"wave":6924,"flux":0.35},{"wave":6926,"flux":0.295},{"wave":6930,"flux":0.28},{"wave":6935,"flux":0.27},{"wave":6938,"flux":0.3},{"wave":6941,"flux":0.37},{"wave":6944,"flux":0.3},{"wave":6947,"flux":0.38},{"wave":6949,"flux":0.46},{"wave":6951,"flux":0.36},{"wave":6954,"flux":0.28},{"wave":6960,"flux":0.275},{"wave":6964,"flux":0.27},{"wave":6968,"flux":0.29},{"wave":6971,"flux":0.305},{"wave":6974,"flux":0.29},{"wave":6977,"flux":0.33},{"wave":6979,"flux":0.37},{"wave":6981,"flux":0.31},{"wave":6984,"flux":0.27},{"wave":6990,"flux":0.265},{"wave":6997,"flux":0.265},{"wave":7000,"flux":0.275},{"wave":7003,"flux":0.285},{"wave":7006,"flux":0.27},{"wave":7010,"flux":0.31},{"wave":7013,"flux":0.285},{"wave":7016,"flux":0.26},{"wave":7025,"flux":0.262},{"wave":7036,"flux":0.26},{"wave":7042,"flux":0.27},{"wave":7046,"flux":0.29},{"wave":7048,"flux":0.31},{"wave":7051,"flux":0.285},{"wave":7055,"flux":0.27},{"wave":7062,"flux":0.275},{"wave":7070,"flux":0.272},{"wave":7078,"flux":0.278},{"wave":7085,"flux":0.272},{"wave":7088,"flux":0.28},{"wave":7094,"flux":0.265},{"wave":7101,"flux":0.26},{"wave":7110,"flux":0.262},{"wave":7121,"flux":0.26},{"wave":7130,"flux":0.262},{"wave":7138,"flux":0.265},{"wave":7142,"flux":0.275},{"wave":7144,"flux":0.285},{"wave":7147,"flux":0.27},{"wave":7153,"flux":0.265},{"wave":7160,"flux":0.268},{"wave":7170,"flux":0.272},{"wave":7180,"flux":0.27},{"wave":7192,"flux":0.27},{"wave":7200,"flux":0.268},{"wave":7210,"flux":0.27},{"wave":7218,"flux":0.265},{"wave":7225,"flux":0.265},{"wave":7230,"flux":0.275},{"wave":7233,"flux":0.33},{"wave":7236,"flux":0.56},{"wave":7238,"flux":0.59},{"wave":7241,"flux":0.57},{"wave":7243,"flux":0.61},{"wave":7246,"flux":0.44},{"wave":7248,"flux":0.37},{"wave":7250,"flux":0.365},{"wave":7254,"flux":0.35},{"wave":7257,"flux":0.31},{"wave":7261,"flux":0.285},{"wave":7265,"flux":0.3},{"wave":7269,"flux":0.295},{"wave":7272,"flux":0.4},{"wave":7275,"flux":0.75},{"wave":7277,"flux":0.5},{"wave":7279,"flux":0.35},{"wave":7282,"flux":0.38},{"wave":7284,"flux":0.44},{"wave":7287,"flux":0.33},{"wave":7290,"flux":0.31},{"wave":7294,"flux":0.32},{"wave":7297,"flux":0.335},{"wave":7300,"flux":0.33},{"wave":7302,"flux":0.39},{"wave":7305,"flux":0.31},{"wave":7307,"flux":0.285},{"wave":7311,"flux":0.3},{"wave":7313,"flux":0.45},{"wave":7315,"flux":0.65},{"wave":7317,"flux":0.45},{"wave":7320,"flux":0.33},{"wave":7324,"flux":0.31},{"wave":7326,"flux":0.38},{"wave":7328,"flux":0.43},{"wave":7330,"flux":0.35},{"wave":7333,"flux":0.285},{"wave":7336,"flux":0.33},{"wave":7339,"flux":0.68},{"wave":7341,"flux":0.45},{"wave":7344,"flux":0.32},{"wave":7350,"flux":0.27},{"wave":7354,"flux":0.3},{"wave":7357,"flux":0.41},{"wave":7359,"flux":0.33},{"wave":7362,"flux":0.285},{"wave":7365,"flux":0.3},{"wave":7367,"flux":0.45},{"wave":7369,"flux":0.58},{"wave":7371,"flux":0.42},{"wave":7375,"flux":0.28},{"wave":7382,"flux":0.27},{"wave":7386,"flux":0.3},{"wave":7388,"flux":0.35},{"wave":7390,"flux":0.37},{"wave":7392,"flux":0.32},{"wave":7395,"flux":0.27},{"wave":7398,"flux":0.35},{"wave":7400,"flux":0.45},{"wave":7402,"flux":0.33},{"wave":7406,"flux":0.27},{"wave":7414,"flux":0.268},{"wave":7421,"flux":0.265},{"wave":7425,"flux":0.29},{"wave":7427,"flux":0.32},{"wave":7430,"flux":0.29},{"wave":7434,"flux":0.27},{"wave":7437,"flux":0.3},{"wave":7440,"flux":0.33},{"wave":7443,"flux":0.29},{"wave":7448,"flux":0.28},{"wave":7453,"flux":0.27},{"wave":7458,"flux":0.29},{"wave":7461,"flux":0.32},{"wave":7463,"flux":0.34},{"wave":7466,"flux":0.33},{"wave":7469,"flux":0.35},{"wave":7472,"flux":0.37},{"wave":7475,"flux":0.34},{"wave":7478,"flux":0.36},{"wave":7480,"flux":0.38},{"wave":7483,"flux":0.33},{"wave":7486,"flux":0.285},{"wave":7490,"flux":0.29},{"wave":7493,"flux":0.295},{"wave":7496,"flux":0.275},{"wave":7499,"flux":0.26},{"wave":7506,"flux":0.262},{"wave":7512,"flux":0.27},
      {"wave":7519,"flux":0.35},{"wave":7522,"flux":0.5},{"wave":7528,"flux":0.335},{"wave":7533,"flux":0.285},{"wave":7539,"flux":0.29},{"wave":7546,"flux":0.27},{"wave":7551,"flux":0.29},{"wave":7554,"flux":0.32},{"wave":7561,"flux":0.275},{"wave":7566,"flux":0.32},{"wave":7569,"flux":0.44},{"wave":7574,"flux":0.285},{"wave":7581,"flux":0.275},{"wave":7585,"flux":0.335},{"wave":7589,"flux":0.28},{"wave":7594,"flux":0.4},{"wave":7597,"flux":0.79},{"wave":7602,"flux":0.65},{"wave":7607,"flux":0.645},{"wave":7611,"flux":0.49},{"wave":7616,"flux":0.39},{"wave":7621,"flux":0.45},{"wave":7626,"flux":0.61},{"wave":7630,"flux":0.45},{"wave":7633,"flux":0.41},{"wave":7639,"flux":0.395},{"wave":7646,"flux":0.355},{"wave":7652,"flux":0.35},{"wave":7656,"flux":0.33},{"wave":7659,"flux":0.37},{"wave":7665,"flux":0.285},{"wave":7675,"flux":0.275},{"wave":7685,"flux":0.29},{"wave":7690,"flux":0.3},{"wave":7695,"flux":0.315},{"wave":7701,"flux":0.275},{"wave":7708,"flux":0.4},{"wave":7713,"flux":0.69},{"wave":7718,"flux":0.355},{"wave":7723,"flux":0.41},{"wave":7727,"flux":0.285},{"wave":7733,"flux":0.31},{"wave":7740,"flux":0.285},{"wave":7744,"flux":0.4},{"wave":7747,"flux":0.84},{"wave":7750,"flux":0.45},{"wave":7752,"flux":0.33},{"wave":7757,"flux":0.49},{"wave":7763,"flux":0.28},{"wave":7770,"flux":0.3},{"wave":7773,"flux":0.33},{"wave":7778,"flux":0.415},{"wave":7783,"flux":0.29},{"wave":7786,"flux":0.28},{"wave":7791,"flux":0.69},{"wave":7796,"flux":0.295},{"wave":7802,"flux":0.31},{"wave":7806,"flux":0.47},{"wave":7812,"flux":0.29},{"wave":7816,"flux":0.35},{"wave":7819,"flux":0.8},{"wave":7823,"flux":0.29},{"wave":7832,"flux":0.3},{"wave":7836,"flux":0.35},{"wave":7838,"flux":0.45},{"wave":7841,"flux":0.32},{"wave":7845,"flux":0.295},{"wave":7849,"flux":0.45},{"wave":7851,"flux":0.76},{"wave":7856,"flux":0.51},{"wave":7861,"flux":0.365},{"wave":7865,"flux":0.42},{"wave":7868,"flux":0.55},{"wave":7872,"flux":0.33},{"wave":7877,"flux":0.48},{"wave":7883,"flux":0.32},{"wave":7888,"flux":0.56},{"wave":7894,"flux":0.295},{"wave":7903,"flux":0.33},{"wave":7908,"flux":0.45},{"wave":7911,"flux":0.89},{"wave":7916,"flux":0.465},{"wave":7923,"flux":0.33},{"wave":7928,"flux":0.49},{"wave":7935,"flux":0.295},{"wave":7942,"flux":0.33},{"wave":7946,"flux":0.44},{"wave":7952,"flux":0.295},{"wave":7958,"flux":0.35},{"wave":7962,"flux":0.74},{"wave":7969,"flux":0.29},{"wave":7976,"flux":0.51},{"wave":7983,"flux":0.295},{"wave":7987,"flux":0.4},{"wave":7990,"flux":0.81},{"wave":7996,"flux":0.31},{"wave":8001,"flux":0.295},{"wave":8006,"flux":0.34},{"wave":8010,"flux":0.45},{"wave":8018,"flux":0.295},{"wave":8023,"flux":0.68},{"wave":8029,"flux":0.295},{"wave":8037,"flux":0.285},{"wave":8045,"flux":0.3},{"wave":8049,"flux":0.4},{"wave":8053,"flux":0.295},{"wave":8059,"flux":0.49},{"wave":8063,"flux":0.29},{"wave":8073,"flux":0.295},{"wave":8079,"flux":0.29},{"wave":8083,"flux":0.295},{"wave":8089,"flux":0.3},{"wave":8093,"flux":0.34},{"wave":8096,"flux":0.32},{"wave":8099,"flux":0.39},{"wave":8103,"flux":0.31},{"wave":8106,"flux":0.295},{"wave":8112,"flux":0.29},{"wave":8119,"flux":0.285},{"wave":8127,"flux":0.3},{"wave":8135,"flux":0.325},{"wave":8139,"flux":0.31},{"wave":8143,"flux":0.345},{"wave":8147,"flux":0.3},{"wave":8151,"flux":0.295},{"wave":8160,"flux":0.29},{"wave":8171,"flux":0.295},{"wave":8178,"flux":0.3},{"wave":8185,"flux":0.31},{"wave":8190,"flux":0.295},{"wave":8196,"flux":0.305},{"wave":8204,"flux":0.297},{"wave":8213,"flux":0.3},{"wave":8223,"flux":0.31},{"wave":8232,"flux":0.3},{"wave":8243,"flux":0.3},{"wave":8250,"flux":0.305},{"wave":8256,"flux":0.295},{"wave":8265,"flux":0.3},{"wave":8270,"flux":0.36},{"wave":8272,"flux":0.47},{"wave":8275,"flux":0.5},{"wave":8277,"flux":0.64},{"wave":8280,"flux":0.5},{"wave":8282,"flux":0.57},{"wave":8285,"flux":0.71},{"wave":8288,"flux":0.48},{"wave":8290,"flux":0.4},{"wave":8293,"flux":0.5},{"wave":8295,"flux":0.76},{"wave":8298,"flux":0.5},{"wave":8300,"flux":0.4},{"wave":8304,"flux":0.35},{"wave":8307,"flux":0.47},{"wave":8311,"flux":0.32},{"wave":8315,"flux":0.3},{"wave":8321,"flux":0.29},{"wave":8328,"flux":0.295},{"wave":8334,"flux":0.3},{"wave":8337,"flux":0.5},{"wave":8339,"flux":1.5},{"wave":8342,"flux":1.5},{"wave":8344,"flux":0.49},{"wave":8346,"flux":0.5},{"wave":8348,"flux":0.68},{"wave":8351,"flux":0.45},{"wave":8354,"flux":0.33},{"wave":8358,"flux":0.33},{"wave":8361,"flux":0.47},{"wave":8364,"flux":0.33},{"wave":8368,"flux":0.3},{"wave":8374,"flux":0.32},{"wave":8378,"flux":0.58},{"wave":8381,"flux":0.36},{"wave":8385,"flux":0.31},{"wave":8390,"flux":0.35},{"wave":8393,"flux":1.5},{"wave":8395,"flux":1.5},{"wave":8397,"flux":0.4},{"wave":8399,"flux":0.31},{"wave":8406,"flux":0.33},{"wave":8409,"flux":0.45},{"wave":8411,"flux":0.62},{"wave":8413,"flux":0.4},{"wave":8417,"flux":0.31},{"wave":8422,"flux":0.4},{"wave":8424,"flux":1.5},{"wave":8427,"flux":1.5},{"wave":8429,"flux":0.31},
      {"wave":8438,"flux":0.3},{"wave":8446,"flux":0.35},{"wave":8449,"flux":0.59},{"wave":8451,"flux":0.4},{"wave":8453,"flux":0.3},{"wave":8459,"flux":0.32},{"wave":8461,"flux":0.5},{"wave":8463,"flux":1.5},{"wave":8465,"flux":0.5},{"wave":8466,"flux":0.3},{"wave":8475,"flux":0.31},{"wave":8485,"flux":0.3},{"wave":8488,"flux":0.35},{"wave":8490,"flux":0.51},{"wave":8492,"flux":0.35},{"wave":8495,"flux":0.31},{"wave":8499,"flux":0.4},{"wave":8501,"flux":0.66},{"wave":8503,"flux":0.4},{"wave":8506,"flux":0.3},{"wave":8517,"flux":0.295},{"wave":8527,"flux":0.29},{"wave":8532,"flux":0.33},{"wave":8534,"flux":0.4},{"wave":8536,"flux":0.34},{"wave":8538,"flux":0.33},{"wave":8542,"flux":0.38},{"wave":8545,"flux":0.49},{"wave":8548,"flux":0.34},{"wave":8551,"flux":0.295},{"wave":8563,"flux":0.29},{"wave":8570,"flux":0.3},{"wave":8576,"flux":0.31},{"wave":8580,"flux":0.3},{"wave":8584,"flux":0.34},{"wave":8588,"flux":0.32},{"wave":8592,"flux":0.35},{"wave":8594,"flux":0.39},{"wave":8597,"flux":0.33},{"wave":8599,"flux":0.32},{"wave":8604,"flux":0.34},{"wave":8609,"flux":0.38},{"wave":8613,"flux":0.42},{"wave":8617,"flux":0.49},{"wave":8622,"flux":0.58},{"wave":8627,"flux":0.64},{"wave":8630,"flux":0.62},{"wave":8633,"flux":0.58},{"wave":8637,"flux":0.45},{"wave":8640,"flux":0.38},{"wave":8644,"flux":0.5},{"wave":8648,"flux":0.625},{"wave":8652,"flux":0.68},{"wave":8656,"flux":0.69},{"wave":8659,"flux":0.67},{"wave":8662,"flux":0.625},{"wave":8666,"flux":0.55},{"wave":8671,"flux":0.49},{"wave":8674,"flux":0.44},{"wave":8677,"flux":0.41},{"wave":8682,"flux":0.37},{"wave":8687,"flux":0.345},{"wave":8692,"flux":0.34},{"wave":8697,"flux":0.34},{"wave":8702,"flux":0.325},{"wave":8706,"flux":0.32},{"wave":8713,"flux":0.305},{"wave":8720,"flux":0.315},{"wave":8726,"flux":0.31},{"wave":8733,"flux":0.305},{"wave":8739,"flux":0.31},{"wave":8745,"flux":0.315},{"wave":8749,"flux":0.325},{"wave":8752,"flux":0.5},{"wave":8755,"flux":0.91},{"wave":8757,"flux":0.75},{"wave":8759,"flux":0.75},{"wave":8761,"flux":1.5},{"wave":8763,"flux":1.5},{"wave":8766,"flux":0.44},{"wave":8769,"flux":0.5},{"wave":8771,"flux":1.5},{"wave":8775,"flux":1.5},{"wave":8778,"flux":0.4},{"wave":8781,"flux":0.32},{"wave":8785,"flux":0.4},{"wave":8788,"flux":0.61},{"wave":8790,"flux":0.4},{"wave":8793,"flux":0.32},{"wave":8800,"flux":0.33},{"wave":8804,"flux":0.35},{"wave":8808,"flux":0.32},{"wave":8811,"flux":0.31},{"wave":8818,"flux":0.4},{"wave":8820,"flux":1.5},{"wave":8824,"flux":1.5},{"wave":8826,"flux":0.6},{"wave":8828,"flux":0.59},{"wave":8830,"flux":1.5},{"wave":8833,"flux":1.5},{"wave":8835,"flux":0.4},{"wave":8837,"flux":0.31},{"wave":8844,"flux":0.38},{"wave":8847,"flux":0.56},{"wave":8850,"flux":0.38},{"wave":8853,"flux":0.32},{"wave":8860,"flux":0.4},{"wave":8864,"flux":0.75},{"wave":8867,"flux":0.4},{"wave":8871,"flux":0.32},{"wave":8878,"flux":0.45},{"wave":8881,"flux":1.5},{"wave":8884,"flux":0.45},{"wave":8886,"flux":0.33},{"wave":8894,"flux":0.45},{"wave":8899,"flux":0.85},{"wave":8902,"flux":0.45},{"wave":8905,"flux":0.35},{"wave":8909,"flux":0.5},{"wave":8912,"flux":1.5},{"wave":8915,"flux":0.5},{"wave":8920,"flux":0.37},{"wave":8926,"flux":0.36},{"wave":8932,"flux":0.35},{"wave":8936,"flux":0.45},{"wave":8939,"flux":0.77},{"wave":8942,"flux":0.45},{"wave":8945,"flux":0.345},{"wave":8950,"flux":0.5},{"wave":8953,"flux":1.5},{"wave":8956,"flux":0.5},{"wave":8960,"flux":0.36},{"wave":8966,"flux":0.38},{"wave":8971,"flux":0.37},{"wave":8977,"flux":0.38},{"wave":8981,"flux":0.45},{"wave":8984,"flux":0.74},{"wave":8987,"flux":0.45},{"wave":8990,"flux":0.36},{"wave":8994,"flux":0.5},{"wave":8997,"flux":1.5},{"wave":9000,"flux":0.5},{"wave":9003,"flux":0.345},{"wave":9010,"flux":0.35},{"wave":9020,"flux":0.355},{"wave":9028,"flux":0.36},{"wave":9031,"flux":0.45},{"wave":9033,"flux":0.54},{"wave":9035,"flux":0.42},{"wave":9038,"flux":0.35},{"wave":9043,"flux":0.4},{"wave":9046,"flux":0.67},{"wave":9049,"flux":0.42},{"wave":9052,"flux":0.36},{"wave":9058,"flux":0.37},{"wave":9062,"flux":0.38},{"wave":9066,"flux":0.35},{"wave":9072,"flux":0.345},{"wave":9080,"flux":0.35},{"wave":9086,"flux":0.4},{"wave":9088,"flux":0.48},{"wave":9090,"flux":0.4},{"wave":9093,"flux":0.37},{"wave":9096,"flux":0.44},{"wave":9098,"flux":0.53},{"wave":9100,"flux":0.42},{"wave":9104,"flux":0.35},{"wave":9112,"flux":0.345},{"wave":9124,"flux":0.345},{"wave":9132,"flux":0.35},{"wave":9140,"flux":0.36},{"wave":9144,"flux":0.47},{"wave":9147,"flux":0.4},{"wave":9149,"flux":0.4},{"wave":9153,"flux":0.45},{"wave":9155,"flux":0.49},{"wave":9158,"flux":0.4},{"wave":9161,"flux":0.37},{"wave":9170,"flux":0.365},{"wave":9183,"flux":0.36},{"wave":9190,"flux":0.365},{"wave":9199,"flux":0.37},{"wave":9206,"flux":0.38},{"wave":9210,"flux":0.45},{"wave":9213,"flux":0.41},{"wave":9217,"flux":0.4},{"wave":9221,"flux":0.48},{"wave":9224,"flux":0.41},{"wave":9227,"flux":0.38},{"wave":9233,"flux":0.375},{"wave":9238,"flux":0.38},{"wave":9242,"flux":0.41},{"wave":9245,"flux":0.43},{"wave":9248,"flux":0.4},{"wave":9251,"flux":0.38},{"wave":9256,"flux":0.39},{"wave":9260,"flux":0.41},{"wave":9264,"flux":0.39},{"wave":9268,"flux":0.38},{"wave":9273,"flux":0.4},{"wave":9277,"flux":0.43},{"wave":9280,"flux":0.45},{"wave":9282,"flux":0.49},{"wave":9284,"flux":0.47},{"wave":9286,"flux":0.46},{"wave":9288,"flux":0.48},{"wave":9290,"flux":0.51},{"wave":9293,"flux":0.47},{"wave":9297,"flux":0.45},{"wave":9300,"flux":0.48}
    ]
  },
  "layer": [
    {
      "data": {"name": "zero"},
      "mark": {"type": "line", "color": "#0000ff", "strokeWidth": 6, "clip": true},
      "encoding": {
        "x": {
          "field": "wave",
          "type": "quantitative",
          "scale": {"domain": [4748, 9301], "nice": false, "zero": false},
          "axis": {
            "title": "Wavelength",
            "values": [5000, 6000, 7000, 8000, 9000],
            "format": "d",
            "labelFontSize": 27,
            "titleFontSize": 33,
            "titlePadding": 2
          }
        },
        "y": {
          "field": "flux",
          "type": "quantitative",
          "scale": {"domain": [-0.79, 0.945], "nice": false, "zero": false},
          "axis": {
            "title": "10⁻¹⁸ erg s⁻¹ cm⁻² Å⁻¹",
            "values": [-0.6, -0.4, -0.2, 0, 0.2, 0.4, 0.6, 0.8],
            "format": ".1f",
            "labelFontSize": 35,
            "titleFontSize": 48,
            "titlePadding": 17
          }
        }
      }
    },
    {
      "data": {"name": "contam"},
      "mark": {"type": "line", "color": "#008000", "strokeWidth": 1.3, "clip": true},
      "encoding": {
        "x": {"field": "wave", "type": "quantitative"},
        "y": {"field": "flux", "type": "quantitative"}
      }
    },
    {
      "data": {"name": "spec"},
      "mark": {"type": "line", "color": "#000000", "strokeWidth": 5.5, "clip": true},
      "encoding": {
        "x": {"field": "wave", "type": "quantitative"},
        "y": {"field": "flux", "type": "quantitative"}
      }
    }
  ]
}
